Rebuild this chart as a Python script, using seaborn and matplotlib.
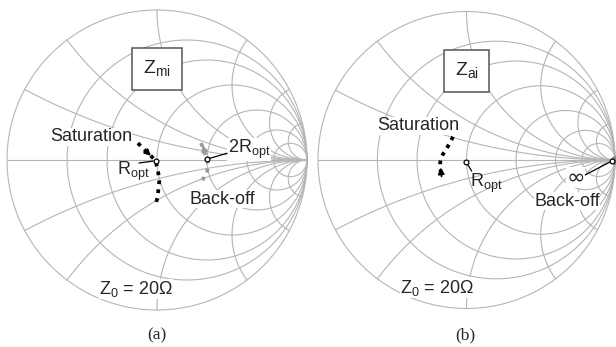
import numpy as np
import matplotlib
matplotlib.use("Agg")
import matplotlib.pyplot as plt
import seaborn as sns

# normalised grid values of the Smith chart
grid_r = [0.25, 0.5, 1, 2, 4, 8]
grid_x = [0.25, 0.5, 1, 2, 4, 8]

# traces as reflection coefficient (real, imag), read off the picture
# (a) Z_mi
sat_a_re = [-0.127, -0.100, -0.067, -0.040, -0.009, 0.009, 0.015, 0.009, 0.002, -0.013]
sat_a_im = [0.113, 0.083, 0.053, 0.027, -0.005, -0.089, -0.145, -0.200, -0.255, -0.311]
bo_a_re = [0.293, 0.313, 0.331, 0.342, 0.333, 0.300]
bo_a_im = [0.113, 0.067, 0.005, -0.033, -0.080, -0.140]
ropt_a = (-0.009, -0.005)
ropt2_a = (0.331, 0.005)

# (b) Z_ai
sat_b_re = [-0.091, -0.113, -0.136, -0.158, -0.174, -0.178, -0.178, -0.165]
sat_b_im = [0.157, 0.112, 0.074, 0.040, 0.005, -0.027, -0.054, -0.114]
ropt_b = (-0.003, -0.011)
inf_b = (0.982, -0.005)

sns.set_theme(style="white")
plt.rcParams["font.family"] = ["Liberation Sans", "DejaVu Sans"]
plt.rcParams["mathtext.fontset"] = "custom"
plt.rcParams["mathtext.rm"] = "Liberation Sans"

GRID = "#b5b5b5"
FS = 13
white = dict(facecolor="white", edgecolor="none", pad=0.3)


def gamma(z):
    return (z - 1) / (z + 1)


def smith_grid(ax):
    t = np.linspace(0, 2 * np.pi, 500)
    ax.plot(np.cos(t), np.sin(t), color=GRID, lw=0.8, clip_on=False)
    ax.plot([-1, 1], [0, 0], color=GRID, lw=0.8, clip_on=False)
    xs = np.tan(np.linspace(-np.pi / 2 + 1e-4, np.pi / 2 - 1e-4, 900))
    for r in grid_r:
        g = gamma(r + 1j * xs)
        ax.plot(g.real, g.imag, color=GRID, lw=0.8, clip_on=False)
    rs = np.concatenate([np.linspace(0, 1, 200), np.logspace(0, 4, 400)])
    for x in grid_x:
        for s in (1, -1):
            g = gamma(rs + 1j * s * x)
            ax.plot(g.real, g.imag, color=GRID, lw=0.8, clip_on=False)
    ax.set_xlim(-1, 1)
    ax.set_ylim(-1, 1)
    ax.axis("off")


def marker(ax, p):
    ax.scatter([p[0]], [p[1]], s=12, facecolor="white", edgecolor="black",
               linewidth=0.9, zorder=6)


def leader(ax, p, q):
    ax.annotate("", xy=p, xytext=q,
                arrowprops=dict(arrowstyle="-", color="black", lw=0.9,
                                shrinkA=0, shrinkB=2), zorder=5)


def arrow(ax, p, q, color):
    ax.annotate("", xy=q, xytext=p,
                arrowprops=dict(arrowstyle="-|>,head_length=0.3,head_width=0.15",
                                color=color, lw=1.3, shrinkA=0, shrinkB=0), zorder=5)


fig = plt.figure(figsize=(6.16, 3.47), dpi=100)
ax1 = fig.add_axes([7 / 616, 37 / 347, 300 / 616, 300 / 347])
ax2 = fig.add_axes([318 / 616, 38.5 / 347, 297 / 616, 297 / 347])

dots = (0, (1, 1.4))

# ---- (a)
smith_grid(ax1)
sns.lineplot(x=bo_a_re, y=bo_a_im, sort=False, estimator=None, ax=ax1,
             color="#9a9a9a", lw=2.7, linestyle=dots, zorder=4)
sns.lineplot(x=sat_a_re, y=sat_a_im, sort=False, estimator=None, ax=ax1,
             color="black", lw=2.7, linestyle=dots, zorder=4)
arrow(ax1, (-0.075, 0.06), (-0.04, 0.028), "black")
arrow(ax1, (0.318, 0.055), (0.303, 0.10), "#9a9a9a")
marker(ax1, ropt_a)
marker(ax1, ropt2_a)
leader(ax1, ropt_a, (-0.12, -0.02))
leader(ax1, ropt2_a, (0.467, 0.045))

ax1.text(-0.44, 0.155, "Saturation", fontsize=FS, ha="center", va="center",
         bbox=white, zorder=3)
ax1.text(-0.16, -0.075, r"R$_\mathregular{opt}$", fontsize=FS, ha="center",
         va="center", zorder=3)
ax1.text(0.47, 0.07, r"2R$_\mathregular{opt}$", fontsize=FS, ha="left",
         va="center", bbox=white, zorder=3)
ax1.text(0.435, -0.26, "Back-off", fontsize=FS, ha="center", va="center",
         bbox=white, zorder=3)
ax1.text(0, 0.607, r"Z$_\mathregular{mi}$", fontsize=FS + 1, ha="center",
         va="center",
         bbox=dict(boxstyle="square,pad=0.55", facecolor="white",
                   edgecolor="#555555", lw=1.1), zorder=3)
ax1.text(-0.14, -0.86, r"Z$_\mathregular{0}$ = 20Ω", fontsize=FS, ha="center",
         va="center", bbox=white, zorder=3)
ax1.text(0, -1.17, "(a)", fontsize=12.5, ha="center", va="center",
         family="Liberation Serif")

# ---- (b)
smith_grid(ax2)
sns.lineplot(x=sat_b_re, y=sat_b_im, sort=False, estimator=None, ax=ax2,
             color="black", lw=2.7, linestyle=dots, zorder=4)
arrow(ax2, (-0.168, -0.11), (-0.176, -0.05), "black")
ax2.scatter([1.0], [0.0], s=30, color="#8a8a8a", zorder=5, clip_on=False)
marker(ax2, ropt_b)
marker(ax2, inf_b)
leader(ax2, ropt_b, (0.035, -0.075))
leader(ax2, inf_b, (0.80, -0.10))

ax2.text(-0.327, 0.23, "Saturation", fontsize=FS, ha="center", va="center",
         bbox=white, zorder=3)
ax2.text(0.135, -0.16, r"R$_\mathregular{opt}$", fontsize=FS, ha="center",
         va="center", zorder=3)
ax2.text(0.735, -0.12, "∞", fontsize=FS + 3, ha="center", va="center",
         family=["DejaVu Sans"], bbox=white, zorder=3)
ax2.text(0.677, -0.277, "Back-off", fontsize=FS, ha="center", va="center",
         bbox=white, zorder=3)
ax2.text(0, 0.6, r"Z$_\mathregular{ai}$", fontsize=FS + 1, ha="center",
         va="center",
         bbox=dict(boxstyle="square,pad=0.55", facecolor="white",
                   edgecolor="#555555", lw=1.1), zorder=3)
ax2.text(-0.2, -0.86, r"Z$_\mathregular{0}$ = 20Ω", fontsize=FS, ha="center",
         va="center", bbox=white, zorder=3)
ax2.text(-0.01, -1.18, "(b)", fontsize=12.5, ha="center", va="center",
         family="Liberation Serif")

fig.savefig("out.png", dpi=100)
